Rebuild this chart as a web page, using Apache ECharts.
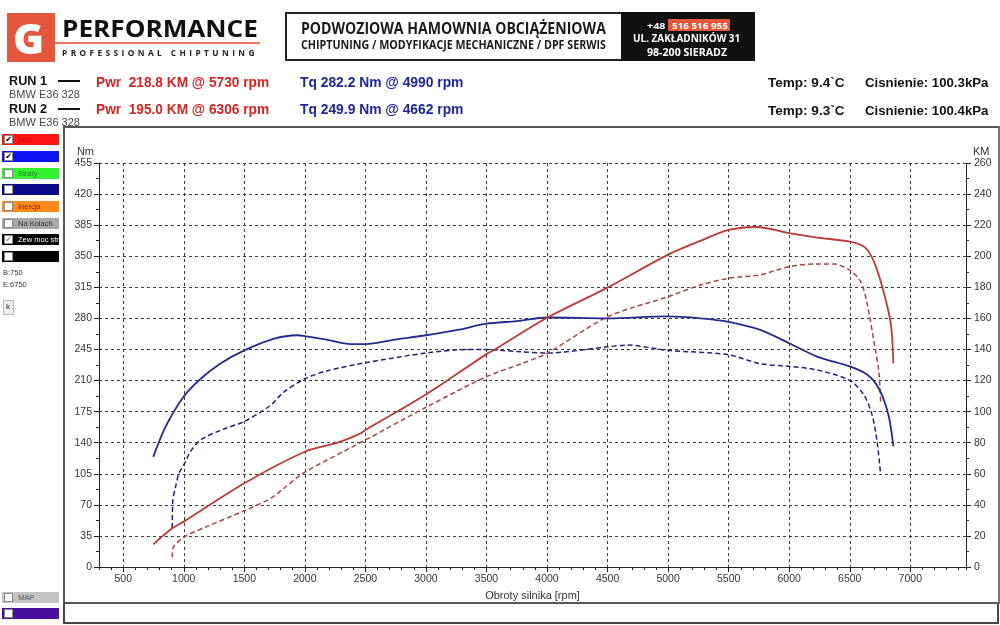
<!DOCTYPE html>
<html>
<head>
<meta charset="utf-8">
<script src="https://cdn.jsdelivr.net/npm/echarts@6.0.0/dist/echarts.min.js"></script>
<style>
  body { margin: 0; background: #fff; }
  #page { position: relative; width: 1000px; height: 625px; overflow: hidden; font-family: "Liberation Sans", Arial, sans-serif; }
  #chart { position: absolute; left: 0; top: 0; width: 1000px; height: 625px; }
  .t { position: absolute; white-space: nowrap; line-height: 1; transform-origin: 0 0; }
  .os { font-family: "Open Sans", "Liberation Sans", sans-serif; font-weight: bold; }
  .b { font-weight: bold; }
  .box { position: absolute; box-sizing: border-box; }
  .row { position: absolute; left: 2px; width: 57px; height: 11px; }
  .row .cb { position: absolute; left: 2px; top: 1px; width: 9px; height: 9px; background: #fff; border: 1px solid #888; box-sizing: border-box; font: bold 8px/8px "DejaVu Sans", sans-serif; color: #000; text-align: center; }
  .row .lb { position: absolute; left: 16px; top: 2px; font: 7.5px/1 "Liberation Sans", Arial, sans-serif; white-space: nowrap; }
</style>
</head>
<body>
<div id="page">
  <div id="chart"></div>

  <!-- logo -->
  <div class="box" style="left:7px;top:13px;width:48px;height:49px;background:#e4573d;"></div>
  <div class="t os" style="left:13px;top:17px;font-size:42px;color:#fff;font-weight:800;">G</div>
  <div class="t os" data-w="196" style="left:62px;top:15.8px;font-size:24px;color:#111;">PERFORMANCE</div>
  <div class="box" style="left:55px;top:42px;width:205px;height:2px;background:#e8775a;"></div>
  <div class="t os" data-w="196" style="left:62px;top:48.5px;font-size:8px;letter-spacing:3.3px;color:#222;">PROFESSIONAL CHIPTUNING</div>

  <!-- header box -->
  <div class="box" style="left:285px;top:12px;width:470px;height:49px;border:2px solid #222;"></div>
  <div class="box" style="left:621px;top:12px;width:134px;height:49px;background:#111;"></div>
  <div class="t os" data-w="305" style="left:301px;top:21.3px;font-size:15.5px;color:#1a1a1a;">PODWOZIOWA HAMOWNIA OBCIĄŻENIOWA</div>
  <div class="t os" data-w="305" style="left:301px;top:38.7px;font-size:11.7px;color:#1a1a1a;">CHIPTUNING / MODYFIKACJE MECHANICZNE / DPF SERWIS</div>
  <div class="t os" data-w="18" style="left:647px;top:21px;font-size:9px;color:#fff;">+48</div>
  <div class="box" style="left:668px;top:19px;width:62px;height:12px;background:#e4573d;"></div>
  <div class="t os" data-w="56" style="left:672px;top:21px;font-size:9.5px;color:#fff;">516 516 955</div>
  <div class="t os" data-w="107" style="left:633px;top:33px;font-size:10.8px;color:#fff;">UL. ZAKŁADNIKÓW 31</div>
  <div class="t os" data-w="80" style="left:647px;top:45.8px;font-size:11px;color:#fff;">98-200 SIERADZ</div>

  <!-- run info -->
  <div class="t b" data-w="38" style="left:9px;top:75.4px;font-size:12px;color:#111;">RUN 1</div>
  <div class="box" style="left:58px;top:80px;width:22px;height:1.5px;background:#111;"></div>
  <div class="t" data-w="71" style="left:9px;top:88.6px;font-size:11px;color:#444;">BMW E36 328</div>
  <div class="t b" data-w="173" style="left:96px;top:74.7px;font-size:14px;color:#d42424;">Pwr&nbsp; 218.8 KM @ 5730 rpm</div>
  <div class="t b" data-w="163" style="left:300px;top:74.7px;font-size:14px;color:#1f2796;">Tq 282.2 Nm @ 4990 rpm</div>
  <div class="t b" data-w="76" style="left:768px;top:75.8px;font-size:13px;color:#111;">Temp: 9.4`C</div>
  <div class="t b" data-w="123" style="left:865px;top:75.8px;font-size:13px;color:#111;">Cisnienie: 100.3kPa</div>

  <div class="t b" data-w="38" style="left:9px;top:103.4px;font-size:12px;color:#111;">RUN 2</div>
  <div class="box" style="left:58px;top:108px;width:22px;height:1.5px;background:#111;"></div>
  <div class="t" data-w="71" style="left:9px;top:116.6px;font-size:11px;color:#444;">BMW E36 328</div>
  <div class="t b" data-w="173" style="left:96px;top:102.4px;font-size:14px;color:#d42424;">Pwr&nbsp; 195.0 KM @ 6306 rpm</div>
  <div class="t b" data-w="163" style="left:300px;top:102.4px;font-size:14px;color:#1f2796;">Tq 249.9 Nm @ 4662 rpm</div>
  <div class="t b" data-w="76" style="left:768px;top:103.5px;font-size:13px;color:#111;">Temp: 9.3`C</div>
  <div class="t b" data-w="123" style="left:865px;top:103.5px;font-size:13px;color:#111;">Cisnienie: 100.4kPa</div>

  <!-- frames -->
  <div class="box" style="left:63px;top:126px;width:937px;height:478px;border:2px solid #555;border-right-color:#777;"></div>
  <div class="box" style="left:63px;top:603px;width:936px;height:21px;border:2px solid #444;border-top:none;"></div>

  <!-- left panel -->
  <div id="panel"></div>
  <div class="t" style="left:3px;top:268.5px;font-size:7.5px;color:#333;">B:750</div>
  <div class="t" style="left:3px;top:281px;font-size:7.5px;color:#333;">E:6750</div>
  <div class="box" style="left:3px;top:300px;width:11px;height:15px;background:#eee;border:1px solid #bbb;"></div>
  <div class="t" style="left:6px;top:303px;font-size:8px;color:#222;">k</div>
</div>

<script>
// run 1 (solid)
const run1TqRpm = [748, 850, 1000, 1140, 1300, 1500, 1740, 1940, 2000, 2180, 2380, 2500, 2740, 3000, 3260, 3500, 3750, 4000, 4500, 4990, 5270, 5500, 5760, 6000, 6230, 6500, 6640, 6740, 6820, 6860];
const run1TqNm = [124, 158, 192, 212, 229, 244, 257, 261, 260, 256, 251, 251, 256, 261, 267, 274, 277, 281, 280, 282.2, 280, 276, 267, 252, 237, 226, 217, 201, 171, 136];
const run1PwrRpm = [748, 905, 1000, 1500, 2000, 2270, 2460, 2500, 3000, 3500, 3580, 4000, 4500, 5000, 5270, 5500, 5730, 6000, 6230, 6500, 6620, 6700, 6780, 6840, 6860];
const run1PwrKm = [14.6, 24.9, 29.2, 53.9, 74.2, 80, 86, 88.2, 111, 137, 140.5, 160.4, 179.8, 201, 210, 216.9, 218.8, 214.8, 212, 209.4, 206, 196.5, 177, 156, 131];

// run 2 (dashed)
const run2TqRpm = [905, 910, 932, 959, 1000, 1056, 1138, 1303, 1500, 1716, 1826, 2000, 2184, 2500, 3000, 3340, 3500, 3616, 3780, 4000, 4500, 4662, 5000, 5500, 5760, 6000, 6230, 6500, 6616, 6685, 6726, 6753];
const run2TqNm = [44, 75, 90, 105, 115, 130, 143, 154, 164, 182, 197, 212, 221, 230, 241, 245, 245, 244, 242.5, 241, 248, 249.9, 244, 239, 229, 226, 222, 210, 194, 171, 141, 107];
const run2PwrRpm = [905, 910, 1000, 1190, 1500, 1715, 1825, 2000, 2500, 3000, 3500, 3780, 4000, 4500, 5000, 5270, 5500, 5760, 6000, 6230, 6306, 6370, 6500, 6590, 6640, 6700, 6740, 6755];
const run2PwrKm = [6.2, 12, 19.1, 26, 36.2, 44, 50.6, 61, 81.7, 102.8, 122.5, 130.6, 137.5, 161, 174, 181.5, 185.8, 188, 193.3, 195, 195, 195, 191, 183.6, 170.7, 145, 125.7, 106];

// left panel switches
const panelRows = [
  { y: 134, bg: "#ff1414", label: "Moc", fg: "#c81010", check: "✔" },
  { y: 151, bg: "#0a14f0", label: "", fg: "#fff", check: "✔" },
  { y: 168, bg: "#33f033", label: "Straty", fg: "#1d8a1d", check: "" },
  { y: 184, bg: "#0a0a86", label: "", fg: "#fff", check: "" },
  { y: 201, bg: "#ff8a1c", label: "Inercja", fg: "#7a2a00", check: "" },
  { y: 218, bg: "#a8a8a8", label: "Na Kolach", fg: "#333", check: "" },
  { y: 234, bg: "#000", label: "Zew moc str", fg: "#fff", check: "✔", checkColor: "#999" },
  { y: 251, bg: "#000", label: "", fg: "#fff", check: "" },
  { y: 592, bg: "#c4c4c4", label: "MAP", fg: "#555", check: "" },
  { y: 608, bg: "#4a0c9a", label: "", fg: "#fff", check: "" }
];
const panel = document.getElementById("panel");
panelRows.forEach(r => {
  const d = document.createElement("div");
  d.className = "row";
  d.style.top = r.y + "px";
  d.style.background = r.bg;
  d.innerHTML = '<div class="cb" style="color:' + (r.checkColor || "#000") + '">' + r.check + '</div>' +
    '<div class="lb" style="color:' + r.fg + '">' + r.label + '</div>';
  panel.appendChild(d);
});

// squeeze header texts to the widths seen in the picture
document.querySelectorAll("[data-w]").forEach(el => {
  const s = +el.dataset.w / el.offsetWidth;
  el.style.transform = "scaleX(" + s + ")";
});

const pairs = (xs, ys) => xs.map((x, i) => [x, ys[i]]);

const axisFont = { color: "#333", fontSize: 10.5, fontFamily: "Liberation Sans, Arial, sans-serif" };
const gridLine = { show: true, lineStyle: { color: "#3a3a3a", width: 1, type: [3, 3] } };

let myChart = echarts.init(document.getElementById("chart"), null, { renderer: "canvas" });
let option = {
  animation: false,
  grid: { left: 99, right: 34, top: 163, bottom: 58 },
  xAxis: [
    {
      type: "value",
      min: 300,
      max: 7460,
      splitNumber: 14,
      name: "Obroty silnika [rpm]",
      nameLocation: "middle",
      nameGap: 23,
      nameTextStyle: { color: "#333", fontSize: 11, fontFamily: "Liberation Sans, Arial, sans-serif" },
      axisLine: { lineStyle: { color: "#222", width: 1 } },
      axisTick: { length: 5, lineStyle: { color: "#222" } },
      axisLabel: Object.assign({ margin: 7, showMinLabel: false, showMaxLabel: false, formatter: v => String(v) }, axisFont),
      splitLine: gridLine
    },
    {
      // small ticks every 100 rpm
      type: "value",
      min: 300,
      max: 7460,
      interval: 100,
      position: "bottom",
      axisLine: { show: false },
      axisTick: { length: 3, lineStyle: { color: "#222" } },
      axisLabel: { show: false },
      splitLine: { show: false }
    }
  ],
  yAxis: [
    {
      type: "value",
      min: 0,
      max: 455,
      interval: 35,
      position: "left",
      name: "Nm",
      nameLocation: "end",
      nameGap: 6,
      nameTextStyle: { color: "#333", fontSize: 11, align: "right", padding: [0, 5, 0, 0], fontFamily: "Liberation Sans, Arial, sans-serif" },
      axisLine: { show: true, lineStyle: { color: "#222", width: 1 } },
      axisTick: { show: true, length: 5, lineStyle: { color: "#222" } },
      minorTick: { show: true, splitNumber: 2, length: 3, lineStyle: { color: "#222" } },
      axisLabel: Object.assign({ margin: 7, formatter: v => String(v) }, axisFont),
      splitLine: gridLine
    },
    {
      type: "value",
      min: 0,
      max: 260,
      interval: 20,
      position: "right",
      name: "KM",
      nameLocation: "end",
      nameGap: 6,
      nameTextStyle: { color: "#333", fontSize: 11, align: "left", padding: [0, 0, 0, 7], fontFamily: "Liberation Sans, Arial, sans-serif" },
      axisLine: { show: true, lineStyle: { color: "#222", width: 1 } },
      axisTick: { show: true, length: 5, lineStyle: { color: "#222" } },
      minorTick: { show: true, splitNumber: 2, length: 3, lineStyle: { color: "#222" } },
      axisLabel: Object.assign({ margin: 8, formatter: v => String(v) }, axisFont),
      splitLine: { show: false }
    }
  ],
  series: [
    {
      name: "Run 2 Tq",
      type: "line",
      yAxisIndex: 0,
      data: pairs(run2TqRpm, run2TqNm),
      showSymbol: false,
      smooth: 0.3,
      lineStyle: { color: "#1f2270", width: 1.5, type: [5, 3] }
    },
    {
      name: "Run 2 Pwr",
      type: "line",
      yAxisIndex: 1,
      data: pairs(run2PwrRpm, run2PwrKm),
      showSymbol: false,
      smooth: 0.3,
      lineStyle: { color: "#a5463f", width: 1.5, type: [5, 3] }
    },
    {
      name: "Run 1 Tq",
      type: "line",
      yAxisIndex: 0,
      data: pairs(run1TqRpm, run1TqNm),
      showSymbol: false,
      smooth: 0.3,
      lineStyle: { color: "#232b8c", width: 1.8 }
    },
    {
      name: "Run 1 Pwr",
      type: "line",
      yAxisIndex: 1,
      data: pairs(run1PwrRpm, run1PwrKm),
      showSymbol: false,
      smooth: 0.3,
      lineStyle: { color: "#b93a36", width: 1.8 }
    }
  ]
};
myChart.setOption(option);
</script>
</body>
</html>
